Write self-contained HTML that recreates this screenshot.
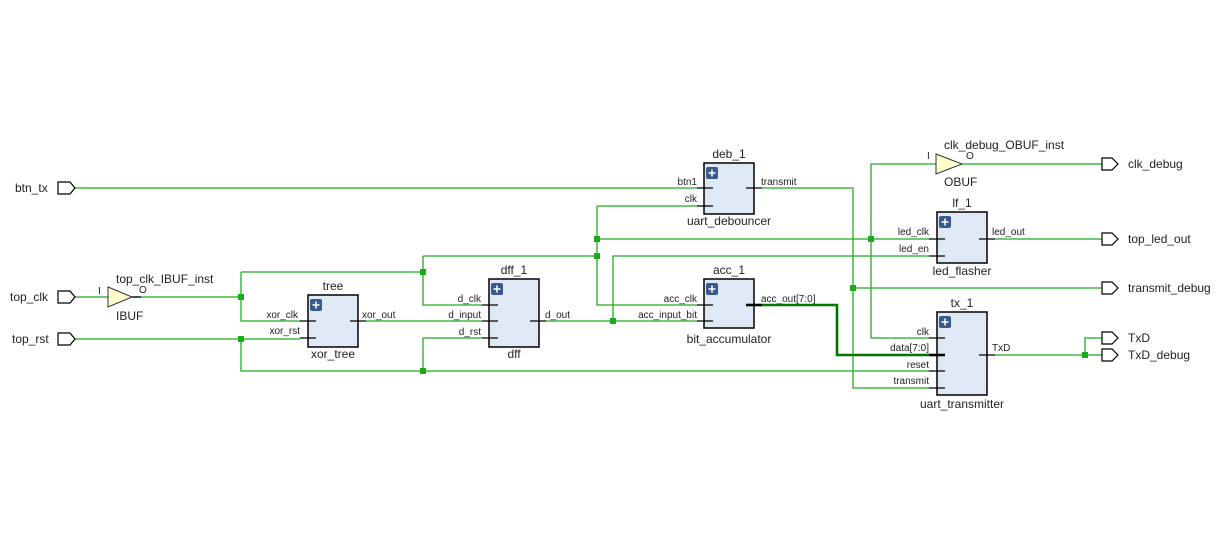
<!DOCTYPE html>
<html><head><meta charset="utf-8"><style>
html,body{margin:0;padding:0;background:#fff;}
svg{display:block;}
text{font-family:"Liberation Sans",sans-serif;fill:#222;}
.pl{font-size:10px;}
.bn{font-size:12px;}
.w{stroke:#22aa22;stroke-width:1.3;fill:none;}
.bus{stroke:#007700;stroke-width:2.6;fill:none;}
.s{stroke:#000;stroke-width:1.3;fill:none;}
.box{fill:#dfe9f6;stroke:#000;stroke-width:1.5;}
.j{fill:#1aaa1a;}
.port{fill:#fff;stroke:#000;stroke-width:1.2;}
.buf{fill:#ffffcc;stroke:#333;stroke-width:1;}
</style></head><body>
<svg width="1221" height="549" viewBox="0 0 1221 549" xmlns="http://www.w3.org/2000/svg">
<g class="w">
<path d="M75 188H697"/>
<path d="M75 297H108"/>
<path d="M132 297H241"/>
<path d="M241 272V321H300"/>
<path d="M241 272H423"/>
<path d="M75 339H300"/>
<path d="M241 339V371H929"/>
<path d="M366 321H482"/>
<path d="M423 256V305H482"/>
<path d="M423 256H597"/>
<path d="M423 338H482"/>
<path d="M423 338V371"/>
<path d="M597 206H697"/>
<path d="M597 206V305H697"/>
<path d="M597 239H929"/>
<path d="M546 321H697"/>
<path d="M613 321V256H929"/>
<path d="M762 188H853V388H929"/>
<path d="M853 288H1102"/>
<path d="M871 338V164H936"/>
<path d="M871 338H929"/>
<path d="M962 164H1102"/>
<path d="M995 239H1102"/>
<path d="M995 355H1102"/>
<path d="M1085 355V338H1102"/>
</g>
<path class="bus" d="M762 305H837V355H929"/>
<g class="j">
<rect x="238" y="294" width="6" height="6"/>
<rect x="238" y="336" width="6" height="6"/>
<rect x="420" y="269" width="6" height="6"/>
<rect x="420" y="368" width="6" height="6"/>
<rect x="594" y="236" width="6" height="6"/>
<rect x="594" y="253" width="6" height="6"/>
<rect x="610" y="318" width="6" height="6"/>
<rect x="850" y="285" width="6" height="6"/>
<rect x="868" y="236" width="6" height="6"/>
<rect x="1082" y="352" width="6" height="6"/>
</g>
<g class="port">
<path d="M58 182H70L75 188L70 194H58Z"/>
<path d="M58 291H70L75 297L70 303H58Z"/>
<path d="M58 333H70L75 339L70 345H58Z"/>
<path d="M1102 158H1112L1118 164L1112 170H1102Z"/>
<path d="M1102 233H1112L1118 239L1112 245H1102Z"/>
<path d="M1102 282H1112L1118 288L1112 294H1102Z"/>
<path d="M1102 332H1112L1118 338L1112 344H1102Z"/>
<path d="M1102 349H1112L1118 355L1112 361H1102Z"/>
</g>
<g class="bn">
<text x="15" y="192">btn_tx</text>
<text x="10" y="301">top_clk</text>
<text x="12" y="343">top_rst</text>
<text x="1128" y="168">clk_debug</text>
<text x="1128" y="243">top_led_out</text>
<text x="1128" y="292">transmit_debug</text>
<text x="1128" y="342">TxD</text>
<text x="1128" y="359">TxD_debug</text>
</g>
<path class="buf" d="M108 287L132 297L108 307Z"/>
<path class="s" d="M132 297H141"/>
<text class="pl" x="98" y="294">I</text>
<text class="pl" x="139" y="293">O</text>
<text class="bn" x="116" y="283">top_clk_IBUF_inst</text>
<text class="bn" x="116" y="320">IBUF</text>
<path class="buf" d="M936 154L962 164L936 174Z"/>
<text class="pl" x="927" y="159">I</text>
<text class="pl" x="966" y="159">O</text>
<text class="bn" x="944" y="149">clk_debug_OBUF_inst</text>
<text class="bn" x="944" y="186">OBUF</text>
<g>
<rect class="box" x="308" y="295" width="50" height="52"/>
<path class="s" d="M300 321H316M300 338H316M350 321H366"/>
<text class="pl" x="298" y="318" text-anchor="end">xor_clk</text>
<text class="pl" x="300" y="334" text-anchor="end">xor_rst</text>
<text class="pl" x="362" y="318">xor_out</text>
<text class="bn" x="333" y="290" text-anchor="middle">tree</text>
<text class="bn" x="333" y="358" text-anchor="middle">xor_tree</text>
<rect class="box" x="489" y="279" width="50" height="68"/>
<path class="s" d="M482 305H498M482 321H498M482 338H498M530 321H546"/>
<text class="pl" x="481" y="302" text-anchor="end">d_clk</text>
<text class="pl" x="481" y="318" text-anchor="end">d_input</text>
<text class="pl" x="481" y="335" text-anchor="end">d_rst</text>
<text class="pl" x="545" y="318">d_out</text>
<text class="bn" x="514" y="274" text-anchor="middle">dff_1</text>
<text class="bn" x="514" y="358" text-anchor="middle">dff</text>
<rect class="box" x="704" y="163" width="50" height="51"/>
<path class="s" d="M697 188H713M697 206H713M746 188H762"/>
<text class="pl" x="697" y="185" text-anchor="end">btn1</text>
<text class="pl" x="697" y="202" text-anchor="end">clk</text>
<text class="pl" x="761" y="185">transmit</text>
<text class="bn" x="729" y="158" text-anchor="middle">deb_1</text>
<text class="bn" x="729" y="225" text-anchor="middle">uart_debouncer</text>
<rect class="box" x="704" y="279" width="50" height="49"/>
<path class="s" d="M697 305H713M697 321H713"/>
<path d="M746 305H762" stroke="#000" stroke-width="2.6"/>
<text class="pl" x="697" y="302" text-anchor="end">acc_clk</text>
<text class="pl" x="697" y="318" text-anchor="end">acc_input_bit</text>
<text class="pl" x="761" y="302">acc_out[7:0]</text>
<text class="bn" x="729" y="274" text-anchor="middle">acc_1</text>
<text class="bn" x="729" y="343" text-anchor="middle">bit_accumulator</text>
<rect class="box" x="937" y="212" width="50" height="51"/>
<path class="s" d="M929 239H945M929 256H945M979 239H995"/>
<text class="pl" x="929" y="235" text-anchor="end">led_clk</text>
<text class="pl" x="929" y="252" text-anchor="end">led_en</text>
<text class="pl" x="992" y="235">led_out</text>
<text class="bn" x="962" y="207" text-anchor="middle">lf_1</text>
<text class="bn" x="962" y="275" text-anchor="middle">led_flasher</text>
<rect class="box" x="937" y="312" width="50" height="83"/>
<path class="s" d="M929 338H945M929 371H945M929 388H945M979 355H995"/>
<path d="M929 355H945" stroke="#000" stroke-width="2.6"/>
<text class="pl" x="929" y="335" text-anchor="end">clk</text>
<text class="pl" x="929" y="351" text-anchor="end">data[7:0]</text>
<text class="pl" x="929" y="368" text-anchor="end">reset</text>
<text class="pl" x="929" y="384" text-anchor="end">transmit</text>
<text class="pl" x="992" y="351">TxD</text>
<text class="bn" x="962" y="307" text-anchor="middle">tx_1</text>
<text class="bn" x="962" y="408" text-anchor="middle">uart_transmitter</text>
</g>
<g>
<rect x="310" y="299" width="12" height="12" rx="2" fill="#3a5a8c"/>
<rect x="491" y="283" width="12" height="12" rx="2" fill="#3a5a8c"/>
<rect x="706" y="167" width="12" height="12" rx="2" fill="#3a5a8c"/>
<rect x="706" y="283" width="12" height="12" rx="2" fill="#3a5a8c"/>
<rect x="939" y="216" width="12" height="12" rx="2" fill="#3a5a8c"/>
<rect x="939" y="316" width="12" height="12" rx="2" fill="#3a5a8c"/>
</g>
<g stroke="#fff" stroke-width="1.5">
<path d="M312.5 305H319.5M316 301.5V308.5"/>
<path d="M493.5 289H500.5M497 285.5V292.5"/>
<path d="M708.5 173H715.5M712 169.5V176.5"/>
<path d="M708.5 289H715.5M712 285.5V292.5"/>
<path d="M941.5 222H948.5M945 218.5V225.5"/>
<path d="M941.5 322H948.5M945 318.5V325.5"/>
</g>
</svg>
</body></html>
